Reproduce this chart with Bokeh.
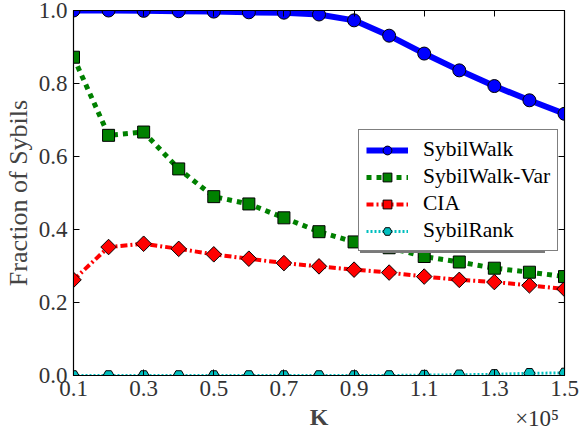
from bokeh.plotting import figure
from bokeh.models import Range1d, FixedTicker, LinearAxis, Legend, LegendItem
from bokeh.embed import file_html
from bokeh.resources import INLINE

K = [10000, 20000, 30000, 40000, 50000, 60000, 70000, 80000, 90000, 100000,
     110000, 120000, 130000, 140000, 150000]
sybilwalk = [1.0, 1.0, 0.999, 0.998, 0.997, 0.995, 0.994, 0.989, 0.973, 0.931,
             0.882, 0.836, 0.793, 0.754, 0.717]
sybilwalk_var = [0.872, 0.658, 0.667, 0.566, 0.490, 0.470, 0.432, 0.394, 0.366, 0.350,
                 0.326, 0.311, 0.294, 0.283, 0.271]
cia = [0.262, 0.352, 0.361, 0.347, 0.332, 0.320, 0.308, 0.299, 0.290, 0.282,
       0.271, 0.262, 0.256, 0.247, 0.237]
sybilrank = [0.0, 0.0, 0.0, 0.0, 0.0, 0.0, 0.0, 0.0, 0.0, 0.0,
             0.001, 0.002, 0.003, 0.006, 0.007]

series_names = ["SybilWalk", "SybilWalk-Var", "CIA", "SybilRank"]
x_ticks = [10000, 30000, 50000, 70000, 90000, 110000, 130000, 150000]
x_tick_labels = ["0.1", "0.3", "0.5", "0.7", "0.9", "1.1", "1.3", "1.5"]
y_ticks = [0.0, 0.2, 0.4, 0.6, 0.8, 1.0]
y_tick_labels = ["0.0", "0.2", "0.4", "0.6", "0.8", "1.0"]
x_scale_text = "×10⁵"
x_scale_pos = 142200

FONT = "Liberation Serif"

p = figure(width=579, height=432, output_backend="svg", toolbar_location=None,
           x_range=Range1d(10000, 150000), y_range=Range1d(0, 1.0),
           min_border_left=70, min_border_right=15, min_border_top=10, min_border_bottom=56,
           x_axis_location=None, y_axis_location=None)
p.grid.visible = False
p.outline_line_color = "black"
p.outline_line_width = 1.2
p.background_fill_color = "white"
p.border_fill_color = "white"


def style_axis(ax, labels_visible=True):
    ax.major_tick_in = 6
    ax.major_tick_out = 0
    ax.minor_tick_line_color = None
    ax.axis_line_color = "black"
    ax.major_tick_line_color = "black"
    ax.major_label_text_font = FONT
    ax.major_label_text_color = "#333333"
    if labels_visible:
        ax.major_label_text_font_size = "23px"
        ax.major_label_standoff = 6
    else:
        ax.major_label_text_font_size = "0px"
        ax.major_label_standoff = 0


# bottom: tick marks only
xb = LinearAxis(ticker=FixedTicker(ticks=x_ticks))
style_axis(xb, labels_visible=False)
p.add_layout(xb, "below")

# bottom: tick labels (+ scale factor on a second line) and axis title
lab_ticks = x_ticks + [x_scale_pos]
overrides = {t: l for t, l in zip(x_ticks, x_tick_labels)}
overrides[x_scale_pos] = "\n" + x_scale_text
xl = LinearAxis(ticker=FixedTicker(ticks=lab_ticks), major_label_overrides=overrides)
style_axis(xl)
xl.axis_line_color = None
xl.major_tick_line_color = None
xl.major_tick_in = 0
xl.major_label_standoff = 0
xl.axis_label = "K"
xl.axis_label_text_font = FONT
xl.axis_label_text_font_style = "bold"
xl.axis_label_text_font_size = "24px"
xl.axis_label_standoff = -30
p.add_layout(xl, "below")

yl = LinearAxis(ticker=FixedTicker(ticks=y_ticks),
                major_label_overrides={t: l for t, l in zip(y_ticks, y_tick_labels)})
style_axis(yl)
yl.axis_label = "Fraction of Sybils"
yl.axis_label_text_font = FONT
yl.axis_label_text_font_style = "normal"
yl.axis_label_text_font_size = "26px"
yl.axis_label_standoff = 3
p.add_layout(yl, "left")

xt = LinearAxis(ticker=FixedTicker(ticks=x_ticks))
style_axis(xt, labels_visible=False)
p.add_layout(xt, "above")
yr = LinearAxis(ticker=FixedTicker(ticks=y_ticks))
style_axis(yr, labels_visible=False)
p.add_layout(yr, "right")

# SybilRank
l4 = p.line(K, sybilrank, line_color="#00BFBF", line_width=3, line_dash="2 2")
s4 = p.scatter(K, sybilrank, marker="hex", size=11, fill_color="#00BFBF",
               line_color="black", line_width=1)
# CIA
l3 = p.line(K, cia, line_color="#FF0000", line_width=4, line_dash="7 3 2 3")
s3 = p.scatter(K, cia, marker="square", angle=0.785398, size=11, fill_color="#FF0000",
               line_color="black", line_width=1)
# SybilWalk-Var
l2 = p.line(K, sybilwalk_var, line_color="#008000", line_width=5, line_dash="5 5")
s2 = p.scatter(K, sybilwalk_var, marker="square", size=12, fill_color="#008000",
               line_color="black", line_width=1)
# SybilWalk
l1 = p.line(K, sybilwalk, line_color="#0000FF", line_width=6)
s1 = p.scatter(K, sybilwalk, marker="circle", size=13, fill_color="#0000FF",
               line_color="black", line_width=1)

renderer_pairs = [[l1, s1], [l2, s2], [l3, s3], [l4, s4]]


def make_legend(loc, shadow=False):
    labels = [" "] * len(series_names) if shadow else series_names
    lg = Legend(items=[LegendItem(label=n, renderers=r)
                       for n, r in zip(labels, renderer_pairs)], location=loc)
    lg.label_text_font = FONT
    lg.label_text_font_size = "21.5px"
    lg.label_text_color = "black"
    lg.glyph_width = 42
    lg.glyph_height = 22
    lg.spacing = 2
    lg.padding = 7
    lg.margin = 0
    lg.label_standoff = 15
    if shadow:
        lg.label_width = 128
        lg.border_line_color = None
        lg.background_fill_color = "#7a7a7a"
        lg.background_fill_alpha = 1.0
    else:
        lg.border_line_color = "black"
        lg.border_line_width = 1
        lg.background_fill_color = "white"
        lg.background_fill_alpha = 1.0
    return lg


p.add_layout(make_legend((287, 122), shadow=True), "center")
p.add_layout(make_legend((285, 124)), "center")

open("out.html", "w").write(file_html(p, INLINE))
